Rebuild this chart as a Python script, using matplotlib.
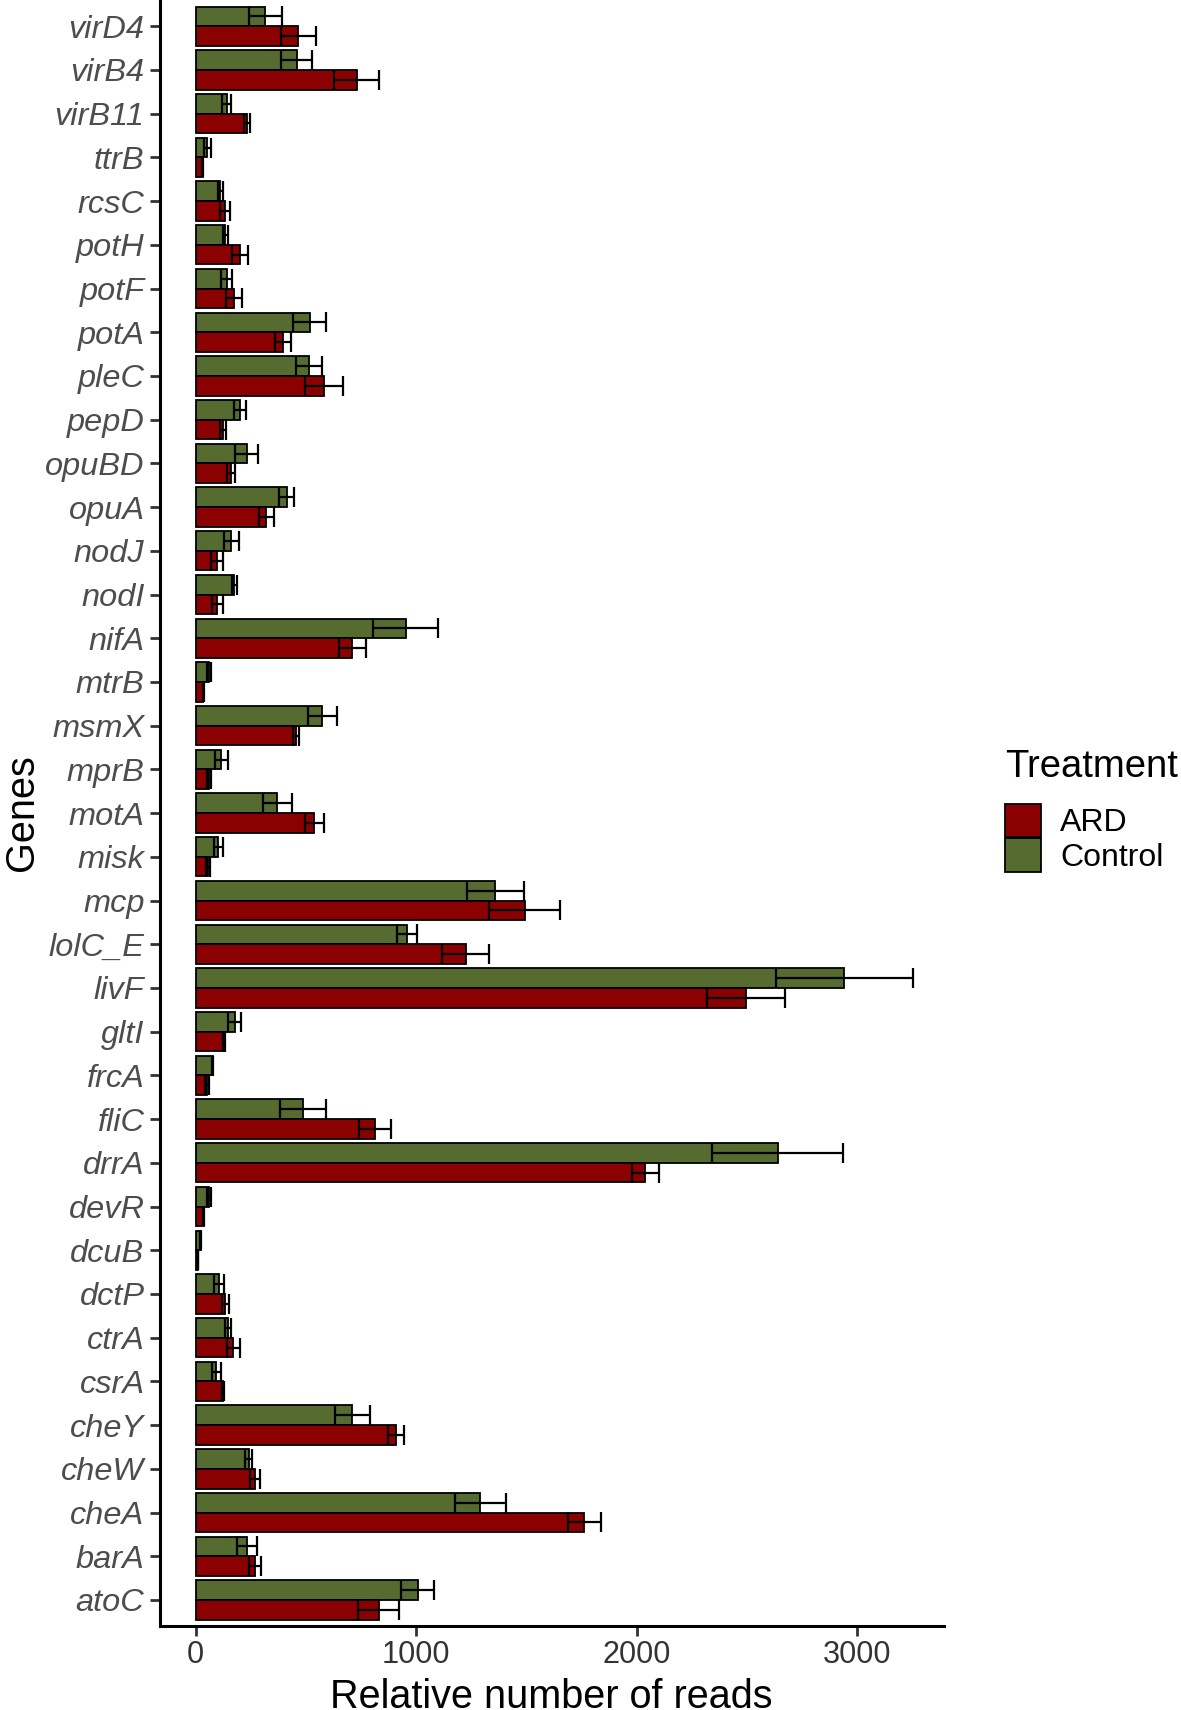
import numpy as np
import matplotlib.pyplot as plt
from matplotlib.patches import Patch

plt.rcParams['font.family'] = ['Liberation Sans', 'DejaVu Sans']

# genes as displayed, top to bottom
genes = ["virD4", "virB4", "virB11", "ttrB", "rcsC", "potH", "potF", "potA",
         "pleC", "pepD", "opuBD", "opuA", "nodJ", "nodI", "nifA", "mtrB",
         "msmX", "mprB", "motA", "misk", "mcp", "lolC_E", "livF", "gltI",
         "frcA", "fliC", "drrA", "devR", "dcuB", "dctP", "ctrA", "csrA",
         "cheY", "cheW", "cheA", "barA", "atoC"]

control_mean = [315, 459, 140, 53, 111, 135, 140, 517,
                512, 201, 231, 412, 161, 175, 953, 60,
                573, 116, 369, 102, 1359, 959, 2942, 176,
                77, 488, 2639, 60, 22, 105, 146, 94,
                711, 240, 1290, 232, 1006]
control_se = [75, 70, 19, 14, 12, 10, 24, 75,
              59, 26, 52, 33, 33, 12, 147, 7,
              66, 30, 66, 21, 130, 44, 312, 28,
              3, 105, 298, 8, 3, 22, 14, 19,
              80, 17, 116, 44, 73]

ard_mean = [466, 730, 233, 32, 133, 201, 173, 395,
            582, 124, 160, 320, 97, 98, 711, 35,
            455, 60, 538, 55, 1492, 1224, 2495, 127,
            50, 813, 2038, 36, 10, 135, 171, 124,
            910, 270, 1762, 270, 830]
ard_se = [78, 103, 14, 3, 21, 37, 35, 37,
          87, 14, 19, 33, 26, 24, 63, 3,
          12, 10, 42, 8, 160, 108, 176, 5,
          8, 74, 61, 3, 1, 14, 30, 5,
          36, 22, 74, 28, 94]

ard_color = "#8B0000"
control_color = "#556B2F"

fig = plt.figure(figsize=(11.81, 17.10), dpi=100)
ax = fig.add_axes([0.1353, 0.049, 0.6637, 0.951])

n = len(genes)
y = np.arange(n)[::-1]
h = 0.45

# --- bars ---
ax.barh(y + h / 2, control_mean, height=h, color=control_color,
        edgecolor="black", linewidth=1.3, zorder=2)
ax.barh(y - h / 2, ard_mean, height=h, color=ard_color,
        edgecolor="black", linewidth=1.3, zorder=2)

# --- error bars (mean +/- se) ---
ax.errorbar(control_mean, y + h / 2, xerr=control_se, fmt="none",
            ecolor="black", elinewidth=1.6, capsize=7, capthick=1.6, zorder=3)
ax.errorbar(ard_mean, y - h / 2, xerr=ard_se, fmt="none",
            ecolor="black", elinewidth=1.6, capsize=7, capthick=1.6, zorder=3)

ax.set_xlim(-163, 3392)
ax.set_ylim(-0.6, n - 0.4)
ax.set_yticks(y)
ax.set_yticklabels(genes, fontstyle="italic", fontsize=23.4, color="#4D4D4D")
ax.set_xticks([0, 1000, 2000, 3000])
ax.tick_params(axis="x", labelsize=22.1, labelcolor="#4D4D4D", pad=3)
ax.tick_params(colors="#333333", width=2.0, length=7)
ax.tick_params(axis="y", labelcolor="#4D4D4D", pad=4)

for side in ["top", "right"]:
    ax.spines[side].set_visible(False)
for side in ["left", "bottom"]:
    ax.spines[side].set_linewidth(2.2)
    ax.spines[side].set_color("black")

ax.set_xlabel("Relative number of reads", fontsize=28.5, labelpad=6)
ax.set_ylabel("Genes", fontsize=28.5, labelpad=3)

# --- legend ---
fig.text(0.851, 1 - 767 / 1710, "Treatment", fontsize=27.5,
         ha="left", va="center")
handles = [Patch(facecolor=ard_color, edgecolor="black", linewidth=1.3),
           Patch(facecolor=control_color, edgecolor="black", linewidth=1.3)]
leg = fig.legend(handles, ["ARD", "Control"],
                 loc="upper left", bbox_to_anchor=(0.851, 1 - 804 / 1710),
                 frameon=False, fontsize=23,
                 handlelength=1.13, handleheight=1.22, labelspacing=0.0,
                 handletextpad=0.6, borderpad=0, borderaxespad=0)

fig.savefig("out.png", dpi=100)
